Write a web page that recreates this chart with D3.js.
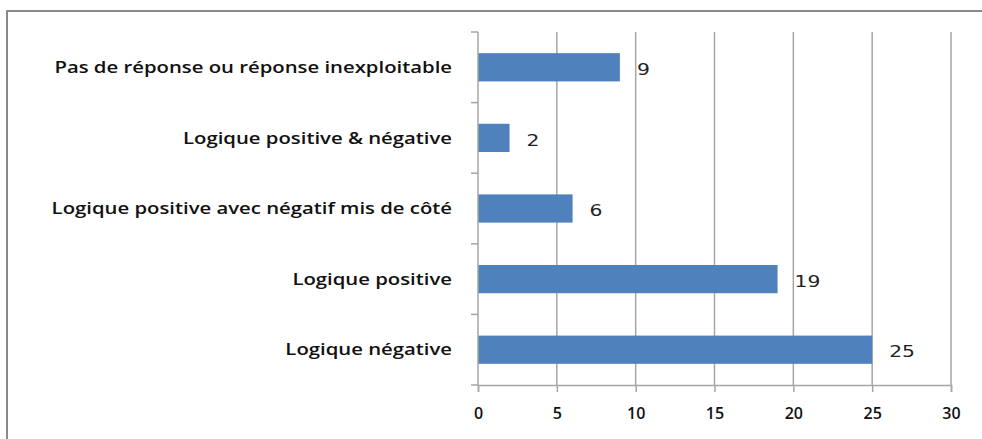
<!DOCTYPE html>
<html lang="fr">

<head>
    <meta charset="UTF-8">
    <title>Logiques de réponse</title>
    <style>
        body { margin: 0; background: #fff; overflow: hidden; }
        svg { display: block; }
    </style>
</head>

<body>
    <script type="text/javascript" src="https://cdn.jsdelivr.net/npm/d3@7"></script>
    <script type="text/javascript">
    // categories from top to bottom
    var categories = [
        "Pas de réponse ou réponse inexploitable",
        "Logique positive & négative",
        "Logique positive avec négatif mis de côté ",
        "Logique positive",
        "Logique négative"
    ];
    var values = [9, 2, 6, 19, 25];
    var xTicks = [0, 5, 10, 15, 20, 25, 30];

    var w = 982,
        h = 439,
        plotLeft = 478,
        plotRight = 951,
        plotTop = 32,
        plotBottom = 385,
        stretch = 1.27; // the original picture is a bit wider than tall

    var svg = d3.select("body")
        .append("svg")
        .attr("width", w)
        .attr("height", h);

    // outer frame (right and bottom edges are cut off)
    svg.append("path")
        .attr("d", "M7," + (h + 5) + " V11 H" + (w + 5))
        .attr("fill", "none")
        .attr("stroke", "#8a8a8a")
        .attr("stroke-width", 2);

    var x = d3.scaleLinear()
        .domain([0, 30])
        .range([plotLeft, plotRight]);

    var y = d3.scaleBand()
        .domain(categories)
        .range([plotTop, plotBottom])
        .paddingInner(0.6)
        .paddingOuter(0.3);

    // vertical gridlines
    svg.selectAll("line.grid")
        .data(xTicks.slice(1))
        .enter()
        .append("line")
        .attr("class", "grid")
        .attr("x1", function(d) { return x(d); })
        .attr("x2", function(d) { return x(d); })
        .attr("y1", plotTop)
        .attr("y2", plotBottom)
        .attr("stroke", "#a6a6a6")
        .attr("stroke-width", 1.5);

    svg.selectAll("rect")
        .data(values)
        .enter()
        .append("rect")
        .attr("x", x(0))
        .attr("y", function(d, i) { return y(categories[i]); })
        .attr("width", function(d) { return x(d) - x(0); })
        .attr("height", y.bandwidth())
        .attr("fill", "#4f81bd");

    // x axis
    var xAxis = svg.append("g")
        .attr("transform", "translate(0," + plotBottom + ")")
        .call(d3.axisBottom(x).tickValues(xTicks).tickSize(7).tickPadding(16));
    xAxis.select(".domain").attr("stroke", "#a6a6a6").attr("stroke-width", 1.5);
    xAxis.selectAll(".tick line").attr("stroke", "#a6a6a6").attr("stroke-width", 1.5);
    xAxis.selectAll(".tick text")
        .attr("font-family", "'Open Sans', sans-serif")
        .attr("font-weight", 600)
        .attr("font-size", "16px")
        .attr("fill", "#111");

    // y axis line and category separator ticks
    var sepY = d3.range(categories.length + 1).map(function(i) {
        return plotTop + i * (plotBottom - plotTop) / categories.length;
    });
    svg.append("line")
        .attr("x1", x(0)).attr("x2", x(0))
        .attr("y1", plotTop).attr("y2", plotBottom)
        .attr("stroke", "#a6a6a6")
        .attr("stroke-width", 1.5);
    svg.selectAll("line.sep")
        .data(sepY)
        .enter()
        .append("line")
        .attr("class", "sep")
        .attr("x1", x(0) - 7).attr("x2", x(0))
        .attr("y1", function(d) { return d; })
        .attr("y2", function(d) { return d; })
        .attr("stroke", "#a6a6a6")
        .attr("stroke-width", 1.5);

    // category labels, stretched sideways like the source image
    svg.selectAll("text.cat")
        .data(categories)
        .enter()
        .append("text")
        .attr("class", "cat")
        .text(function(d) { return d; })
        .attr("transform", function(d) {
            return "translate(452," + (y(d) + y.bandwidth() / 2) + ") scale(" + stretch + ",1)";
        })
        .attr("dy", "0.35em")
        .attr("text-anchor", "end")
        .attr("font-family", "'Open Sans', sans-serif")
        .attr("font-weight", 600)
        .attr("font-size", "16px")
        .attr("fill", "#111");

    // value labels
    svg.selectAll("text.val")
        .data(values)
        .enter()
        .append("text")
        .attr("class", "val")
        .text(function(d) { return d; })
        .attr("transform", function(d, i) {
            return "translate(" + (x(d) + 17) + "," + (y(categories[i]) + y.bandwidth() / 2 + 2) + ") scale(" + stretch + ",1)";
        })
        .attr("dy", "0.35em")
        .attr("font-family", "'DejaVu Sans', sans-serif")
        .attr("font-size", "16px")
        .attr("fill", "#222");
    </script>
</body>

</html>
